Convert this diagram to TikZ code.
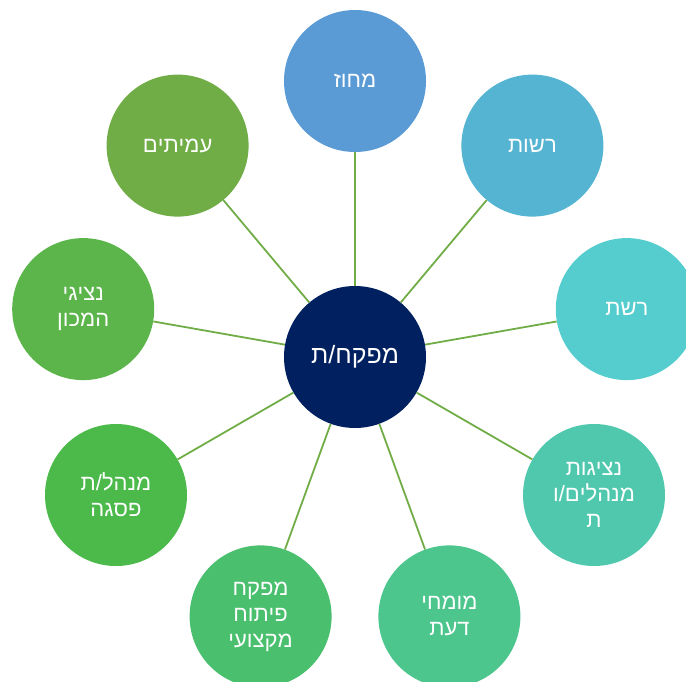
\documentclass[tikz,border=0pt]{standalone}
\usepackage{fontspec}
\setmainfont{Liberation Sans}
\TeXXeTstate=1
\definecolor{cnavy}{HTML}{002060}
\definecolor{cline}{HTML}{70AD47}
\definecolor{ca}{HTML}{5B9BD5}
\definecolor{cb}{HTML}{56B4D3}
\definecolor{cc}{HTML}{55CCCD}
\definecolor{cd}{HTML}{50C8AE}
\definecolor{ce}{HTML}{4CC68C}
\definecolor{cf}{HTML}{4ABF6E}
\definecolor{cg}{HTML}{4BBA4B}
\definecolor{ch}{HTML}{5BB54A}
\definecolor{ci}{HTML}{70AD47}
\tikzset{
  bub/.style={circle, minimum size=142pt, inner sep=0pt, text=white, align=center,
    font=\fontsize{22}{26}\selectfont},
  conn/.style={draw=cline, line width=1.8pt}
}
\newcommand{\rl}[1]{\beginR #1\endR}
\begin{document}
\begin{tikzpicture}[x=1pt,y=-1pt]
\useasboundingbox (0,0) rectangle (686,682);
\clip (0,0) rectangle (686,682);
\node[bub, fill=cnavy, font=\fontsize{25}{29}\selectfont] (m) at (355,357) {\rl{מפקח/ת}};
\node[bub, fill=ca] (n1) at (355,81) {\rl{מחוז}};
\node[bub, fill=cb] (n2) at (532.4,145.6) {\rl{רשות}};
\node[bub, fill=cc] (n3) at (626.8,309.1) {\rl{רשת}};
\node[bub, fill=cd] (n4) at (594,495) {\rl{נציגות}\\\rl{מנהלים/ו}\\\rl{ת}};
\node[bub, fill=ce] (n5) at (449.4,616.4) {\rl{מומחי}\\\rl{דעת}};
\node[bub, fill=cf] (n6) at (260.6,616.4) {\rl{מפקח}\\\rl{פיתוח}\\\rl{מקצועי}};
\node[bub, fill=cg] (n7) at (116,495) {\rl{מנהל/ת}\\\rl{פסגה}};
\node[bub, fill=ch] (n8) at (83.2,309.1) {\rl{נציגי}\\\rl{המכון}};
\node[bub, fill=ci] (n9) at (177.6,145.6) {\rl{עמיתים}};
\foreach \n in {n1,n2,n3,n4,n5,n6,n7,n8,n9}
  \draw[conn] (m) -- (\n);
\end{tikzpicture}
\end{document}
